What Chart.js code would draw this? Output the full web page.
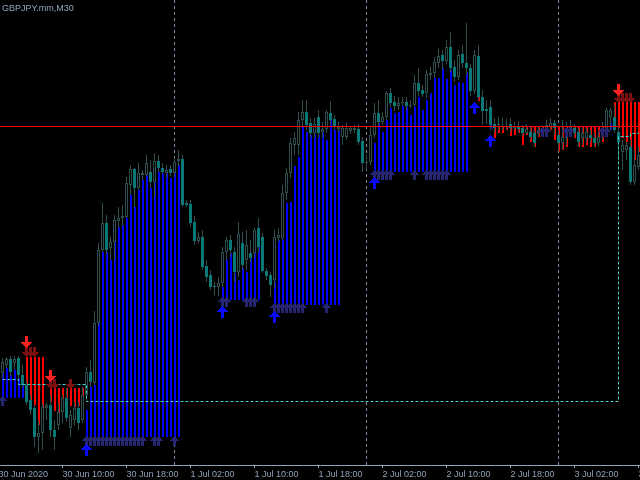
<!DOCTYPE html>
<html><head><meta charset="utf-8">
<script src="https://cdn.jsdelivr.net/npm/chart.js@4.4.1/dist/chart.umd.min.js"></script>
<style>
html,body{margin:0;padding:0;background:#000;width:640px;height:480px;overflow:hidden;}
#wrap{position:relative;width:640px;height:480px;}
#c{position:absolute;left:0;top:0;}
#title{position:absolute;left:2px;top:2px;font:9px "Liberation Sans",Arial,sans-serif;line-height:12px;color:#93a7bd;white-space:nowrap;}
</style></head><body>
<div id="wrap"><canvas id="c" width="640" height="480"></canvas><div id="title">GBPJPY.mm,M30</div></div>
<script>
// ---- data (GBPJPY, M30, 160 bars starting 30 Jun 2020 02:30) ----
const open = [
132.27,132.35,132.41,132.37,132.42,132.25,132.15,132.00,131.92,131.63,
131.67,131.92,131.95,131.70,131.75,131.88,132.02,131.72,131.80,131.92,
131.80,132.05,132.28,132.17,132.77,133.50,133.77,133.52,133.58,133.79,
133.82,133.83,134.15,134.31,134.12,134.25,134.25,134.28,134.18,134.39,
134.32,134.27,134.31,134.27,134.39,134.41,133.97,133.96,133.78,133.59,
133.63,133.34,133.25,133.14,133.13,133.17,133.48,133.60,133.48,133.28,
133.57,133.40,133.47,133.47,133.72,133.63,133.29,133.25,133.20,133.62,
133.62,134.07,134.27,134.55,134.55,134.80,134.88,134.77,134.67,134.83,
134.68,134.71,134.87,134.81,134.71,134.63,134.63,134.69,134.70,134.71,
134.59,134.37,134.38,134.65,134.87,134.78,134.83,135.07,134.98,134.94,
134.97,134.98,134.94,134.95,135.17,135.10,135.07,135.25,135.27,135.37,
135.45,135.39,135.53,135.33,135.23,135.46,135.37,135.32,135.09,135.44,
135.03,134.91,134.93,134.76,134.75,134.74,134.73,134.76,134.72,134.74,
134.72,134.67,134.68,134.67,134.67,134.68,134.72,134.73,134.77,134.65,
134.57,134.62,134.70,134.72,134.68,134.62,134.62,134.65,134.62,134.57,
134.65,134.72,134.83,134.83,134.68,134.48,134.50,134.53,134.18,134.33];
const high = [
132.42,132.43,132.44,132.44,132.44,132.35,132.20,132.05,131.95,131.80,
131.97,131.97,132.05,131.80,131.97,132.05,132.12,131.90,131.98,131.98,
132.13,132.33,132.40,132.89,133.57,133.97,133.85,133.63,133.85,133.93,
133.95,134.23,134.35,134.32,134.37,134.30,134.45,134.40,134.47,134.45,
134.37,134.35,134.35,134.42,134.50,134.45,134.00,134.00,133.84,133.68,
133.70,133.40,133.30,133.18,133.23,133.53,133.63,133.65,133.53,133.78,
133.68,133.70,133.60,133.72,133.82,133.67,133.32,133.28,133.70,133.72,
134.15,134.32,134.62,134.68,134.88,135.00,135.00,134.82,134.82,134.90,
134.78,134.90,134.99,134.85,134.78,134.75,134.77,134.74,134.75,134.76,
134.63,134.45,134.73,134.97,135.00,134.88,135.09,135.12,135.04,135.03,
135.03,135.03,135.00,135.25,135.32,135.15,135.30,135.33,135.43,135.51,
135.50,135.60,135.68,135.40,135.50,135.55,135.77,135.36,135.50,135.55,
135.10,135.00,135.00,134.82,134.83,134.82,134.81,134.82,134.78,134.79,
134.75,134.76,134.73,134.70,134.74,134.75,134.80,134.82,134.80,134.70,
134.80,134.78,134.80,134.76,134.72,134.72,134.72,134.70,134.67,134.68,
134.78,134.92,134.92,134.95,134.75,134.60,134.58,134.60,134.50,134.53];
const low = [
132.22,132.32,132.24,132.30,132.20,132.12,131.95,131.85,131.53,131.47,
131.50,131.80,131.63,131.50,131.70,131.77,131.78,131.63,131.75,131.70,
131.77,132.00,132.13,132.15,132.74,133.48,133.45,133.40,133.40,133.72,
133.74,133.82,134.05,133.93,134.10,134.20,134.24,134.12,134.03,134.28,
134.26,134.22,134.24,134.23,134.34,133.93,133.93,133.73,133.55,133.57,
133.30,133.18,133.10,133.04,133.04,133.13,133.40,133.43,133.18,133.23,
133.30,133.30,133.38,133.42,133.47,133.27,133.20,133.03,133.12,133.58,
133.60,134.00,134.22,134.45,134.45,134.74,134.70,134.62,134.62,134.62,
134.62,134.67,134.75,134.70,134.68,134.55,134.60,134.66,134.67,134.55,
134.28,134.30,134.35,134.62,134.74,134.75,134.80,134.93,134.89,134.90,
134.94,134.90,134.92,134.93,135.04,135.03,135.02,135.20,135.22,135.32,
135.30,135.36,135.28,135.18,135.20,135.32,135.25,135.04,135.06,135.00,
134.75,134.76,134.70,134.67,134.70,134.70,134.70,134.68,134.70,134.67,
134.64,134.66,134.60,134.53,134.64,134.65,134.70,134.70,134.65,134.50,
134.50,134.55,134.68,134.63,134.53,134.55,134.57,134.57,134.53,134.54,
134.60,134.68,134.70,134.67,134.40,134.30,134.40,134.15,134.15,134.30];
const close = [
132.38,132.41,132.28,132.41,132.25,132.15,131.98,131.90,131.63,131.67,
131.93,131.95,131.70,131.63,131.88,132.02,131.82,131.85,131.92,131.77,
132.05,132.28,132.18,132.77,133.50,133.77,133.50,133.58,133.80,133.82,
133.84,134.17,134.31,134.12,134.27,134.27,134.37,134.18,134.39,134.32,
134.28,134.30,134.27,134.38,134.41,133.95,133.95,133.77,133.59,133.63,
133.33,133.23,133.13,133.13,133.17,133.48,133.60,133.50,133.28,133.66,
133.35,133.55,133.42,133.70,133.53,133.29,133.24,133.15,133.63,133.65,
134.07,134.27,134.57,134.62,134.80,134.88,134.75,134.67,134.76,134.67,
134.71,134.88,134.80,134.73,134.73,134.72,134.72,134.72,134.72,134.58,
134.37,134.38,134.65,134.87,134.78,134.83,135.07,134.97,134.94,134.97,
134.98,134.94,134.95,135.17,135.09,135.06,135.26,135.27,135.38,135.44,
135.39,135.53,135.32,135.23,135.45,135.37,135.32,135.09,135.45,135.03,
134.89,134.89,134.75,134.72,134.76,134.73,134.74,134.72,134.73,134.71,
134.67,134.71,134.63,134.57,134.70,134.72,134.75,134.77,134.72,134.57,
134.63,134.70,134.73,134.67,134.58,134.67,134.68,134.62,134.57,134.63,
134.72,134.90,134.90,134.70,134.58,134.55,134.55,134.18,134.35,134.45];

// trend-stop histogram: stop level and price end per bar (null = none)
const stopLevel = [
132.02,132.02,132.02,132.02,132.02,132.02,132.43,132.43,132.43,132.43,
132.43,null,132.12,132.12,132.12,132.12,132.12,132.12,132.12,132.12,
132.12,131.63,131.63,131.63,131.63,131.63,131.63,131.63,131.63,131.63,
131.63,131.63,131.63,131.63,131.63,131.63,131.63,131.63,131.63,131.63,
131.63,131.63,131.63,131.63,131.63,null,null,null,null,null,
null,null,null,null,null,133.00,133.00,133.00,133.00,133.00,
133.00,133.00,133.00,133.00,133.00,null,null,null,132.95,132.95,
132.95,132.95,132.95,132.95,132.95,132.95,132.95,132.95,132.95,132.95,
132.95,132.95,132.95,132.95,132.95,null,null,null,null,null,
null,null,null,134.28,134.28,134.28,134.28,134.28,134.28,134.28,
134.28,134.28,134.28,134.28,134.28,134.28,134.28,134.28,134.28,134.28,
134.28,134.28,134.28,134.28,134.28,134.28,134.28,null,null,135.04,
null,null,134.71,134.74,134.74,134.74,134.74,134.74,134.74,134.74,
134.74,134.74,134.74,134.74,134.74,134.74,134.74,134.74,134.74,134.74,
134.74,134.74,134.74,134.74,134.74,134.74,134.74,134.74,134.74,134.74,
134.74,134.74,134.70,134.98,134.98,134.98,134.98,134.98,134.98,134.98];
const histEnd = [
132.28,132.32,132.25,132.30,132.22,132.15,132.10,131.93,131.95,131.75,
131.83,null,131.98,131.89,131.88,131.93,131.82,131.94,131.93,131.94,
132.05,131.90,132.13,132.15,132.77,133.48,133.48,133.40,133.72,133.73,
133.75,133.82,134.05,133.93,134.10,134.20,134.25,134.12,134.27,134.28,
134.27,134.27,134.22,134.27,134.35,null,null,null,null,null,
null,null,null,null,null,133.13,133.40,133.47,133.27,133.20,
133.32,133.28,133.43,133.47,133.55,null,null,null,133.18,133.60,
133.61,133.97,133.98,134.34,134.43,134.73,134.68,134.65,134.66,134.65,
134.67,134.60,134.82,134.70,134.70,null,null,null,null,null,
null,null,null,134.57,134.77,134.68,134.80,134.92,134.87,134.88,
134.94,134.93,134.85,134.93,135.03,134.90,135.00,135.07,135.22,135.22,
135.32,135.21,135.30,135.15,135.18,135.17,135.28,null,null,134.99,
null,null,134.75,134.62,134.67,134.67,134.70,134.64,134.65,134.67,
134.55,134.65,134.58,134.53,134.63,134.65,134.67,134.70,134.60,134.49,
134.50,134.53,134.63,134.62,134.53,134.53,134.55,134.53,134.53,134.57,
134.58,134.63,134.77,134.78,134.72,134.62,134.58,134.50,134.40,134.48];

// dotted trailing line: bars where its level changes, and the level
const trailBars   = [0, 4, 21, 154, 157, 159];
const trailLevels = [132.205, 132.155, 131.985, 134.635, 134.665, 134.675];

// horizontal level line
const levelLine = 134.735;

// signal arrows
const buyBars = [21, 55, 68, 93, 118, 122];
const buyPrice = [131.50, 132.88, 132.83, 134.17, 134.92, 134.59];
const sellBars = [6, 12, 154];
const sellPrice = [132.58, 132.24, 135.10];
const upMarkBars = [0, 21,22,23,24,25,26,27,28,29,30,31,32,33,34,35,38,39,43,
  55,56,61,62,63, 68,69,70,71,72,73,74,75,81,
  93,94,95,96,97,103,106,107,108,109,110,111, 135,136,141,142,150,151];
const upMarkPrice = [131.99, 131.59,131.59,131.59,131.59,131.59,131.59,131.59,131.59,131.59,131.59,131.59,131.59,131.59,131.59,131.59,131.59,131.59,131.59,
  132.98,132.98,132.98,132.98,132.98, 132.92,132.92,132.92,132.92,132.92,132.92,132.92,132.92,132.92,
  134.25,134.25,134.25,134.25,134.25,134.25,134.25,134.25,134.25,134.25,134.25,134.25, 134.68,134.68,134.68,134.68,134.68,134.68];
const downMarkBars = [6,7,8, 12,13,17, 154,155,156,157];
const downMarkPrice = [132.48,132.48,132.48, 132.16,132.16,132.16, 135.02,135.02,135.02,135.02];

// time axis
const tickBars = [-1, 15, 31, 47, 63, 79, 95, 111, 127, 143, 159];
const tickLabels = ['30 Jun 2020','30 Jun 10:00','30 Jun 18:00','1 Jul 02:00','1 Jul 10:00','1 Jul 18:00','2 Jul 02:00','2 Jul 10:00','2 Jul 18:00','3 Jul 02:00','3 Jul 10:00'];
const daySeparatorBars = [43, 91, 139];

// ---- styles ----
const OUTLINE = '#2F4F4F', BEAR_FILL = '#0B7878', BULL_FILL = '#000000';
const BLUE = '#0000FF', RED = '#FF0000', TRAIL = '#40D0C8';
const SEP = '#7D8DA3', FG = '#8FA3BA';

function arrowImage(color, w, h, headRows, stemW, down) {
  const c = document.createElement('canvas'); c.width = w; c.height = h;
  const g = c.getContext('2d'); g.fillStyle = color;
  const mid = (w - 1) / 2;
  for (let r = 0; r < h; r++) {
    let hw = r < headRows ? Math.round(r * mid / (headRows - 1)) : (stemW - 1) / 2;
    const yy = down ? h - 1 - r : r;
    g.fillRect(mid - hw, yy, 2 * hw + 1, 1);
  }
  return c;
}
const buyImg = arrowImage('#0A0AFF', 11, 12, 6, 3, false);
const sellImg = arrowImage('#FF2020', 11, 12, 6, 3, true);
const upMarkImg = arrowImage('#262670', 9, 10, 5, 3, false);
const downMarkImg = arrowImage('#7A1010', 9, 10, 5, 3, true);

const idx = open.map((_, i) => i);
const wicks = idx.map(i => ({x: i, y: [low[i], high[i]]}));
const bodies = idx.map(i => ({x: i, y: [open[i], close[i]]}));
const bodyFill = idx.map(i => close[i] >= open[i] ? BULL_FILL : BEAR_FILL);
const bodyBorder = idx.map(i => close[i] >= open[i] ? OUTLINE : BEAR_FILL);
const hist = [], histColor = [];
idx.forEach(i => {
  if (stopLevel[i] != null && histEnd[i] != null) {
    hist.push({x: i, y: [stopLevel[i], histEnd[i]]});
    histColor.push(histEnd[i] > stopLevel[i] ? BLUE : RED);
  }
});
const pts = (bars, vals) => bars.map((b, i) => ({x: b, y: vals[i]}));
const xMin = -0.625, xMax = idx.length - 0.625;
const labelMap = new Map(tickBars.map((b, i) => [b, tickLabels[i]]));
const sepSet = new Set(daySeparatorBars);
const axisTicks = tickBars.concat(daySeparatorBars).sort((a, b) => a - b);

new Chart(document.getElementById('c'), {
  type: 'bar',
  data: {
    datasets: [
      {type: 'scatter', data: pts(buyBars, buyPrice), pointStyle: buyImg, pointRadius: 6, order: 1},
      {type: 'scatter', data: pts(sellBars, sellPrice), pointStyle: sellImg, pointRadius: 6, order: 1},
      {type: 'scatter', data: pts(upMarkBars, upMarkPrice), pointStyle: upMarkImg, pointRadius: 5, order: 2},
      {type: 'scatter', data: pts(downMarkBars, downMarkPrice), pointStyle: downMarkImg, pointRadius: 5, order: 2},
      {type: 'line', data: pts(trailBars, trailLevels), stepped: 'before', borderColor: TRAIL, borderWidth: 1,
        borderDash: [3, 2], pointRadius: 0, fill: false, order: 3},
      {type: 'line', data: [{x: xMin, y: levelLine}, {x: xMax, y: levelLine}], borderColor: RED, borderWidth: 1,
        pointRadius: 0, fill: false, order: 4},
      {type: 'bar', data: bodies, backgroundColor: bodyFill, borderColor: bodyBorder, borderWidth: 1,
        borderSkipped: false, barThickness: 3, minBarLength: 1, grouped: false, inflateAmount: 0, order: 30},
      {type: 'bar', data: wicks, backgroundColor: OUTLINE, barThickness: 1, grouped: false, inflateAmount: 0, order: 40},
      {type: 'bar', xAxisID: 'xh', data: hist, backgroundColor: histColor, barThickness: 2, grouped: false, inflateAmount: 0, order: 50}
    ]
  },
  options: {
    responsive: false, animation: false, events: [],
    layout: {padding: 0, autoPadding: false},
    plugins: {legend: {display: false}, tooltip: {enabled: false}, title: {display: false}},
    scales: {
      x: {
        type: 'linear', min: xMin, max: xMax, bounds: 'data', offset: false,
        afterBuildTicks: s => { s.ticks = axisTicks.map(v => ({value: v})); },
        afterFit: s => { s.height = 15; s.paddingLeft = 0; s.paddingRight = 0; s.paddingTop = 0; s.paddingBottom = 0; },
        ticks: {autoSkip: false, maxRotation: 0, minRotation: 0, align: 'start', padding: 1, color: FG,
          font: {family: 'Liberation Sans', size: 9},
          callback: v => labelMap.has(v) ? labelMap.get(v) : ''},
        grid: {offset: false, drawOnChartArea: true, lineWidth: 1, tickLength: 3, tickWidth: 1,
          color: c => (c.tick && sepSet.has(c.tick.value)) ? SEP : 'rgba(0,0,0,0)',
          tickColor: c => (c.tick && labelMap.has(c.tick.value)) ? FG : 'rgba(0,0,0,0)'},
        border: {display: true, color: FG, width: 1, dash: [3, 3]}
      },
      // histogram columns sit half a pixel right of the candle centre, as in the terminal
      xh: {
        type: 'linear', display: false, min: xMin - 0.125, max: xMax - 0.125, bounds: 'data', offset: false,
        afterFit: s => { s.height = 0; s.paddingLeft = 0; s.paddingRight = 0; }
      },
      y: {display: false, min: 131.35, max: 136.00}
    }
  }
});
</script>
</body></html>
